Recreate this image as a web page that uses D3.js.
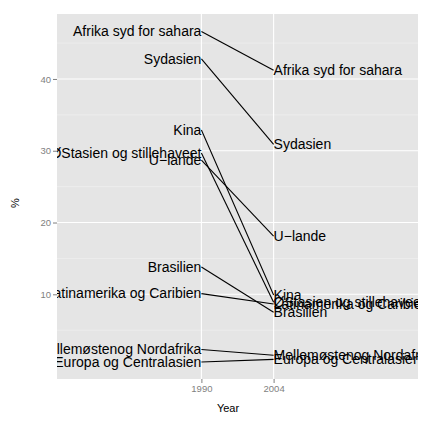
<!DOCTYPE html>
<html>
<head>
<meta charset="utf-8">
<script src="https://cdn.jsdelivr.net/npm/d3@7"></script>
<style>
  body { margin: 0; background: #fff; }
  text { font-family: "Liberation Sans", Arial, sans-serif; }
</style>
</head>
<body>
<svg id="chart"></svg>
<script>
// data
var regions = ["Afrika syd for sahara", "Sydasien", "Kina", "ØStasien og stillehaveet",
               "U−lande", "Brasilien", "Latinamerika og Caribien",
               "Mellemøstenog Nordafrika", "Europa og Centralasien"];
var v1990 = [46.6, 42.8, 32.9, 29.7, 28.7, 13.8, 10.1, 2.3, 0.57];
var v2004 = [41.2, 30.9, 9.9, 8.9, 18.1, 7.5, 8.65, 1.5, 0.94];
var years = [1990, 2004];
var yTicks = [10, 20, 30, 40];
var yMinor = [5, 15, 25, 35, 45];

var W = 432, H = 432;
var panel = {left: 57, right: 418, top: 14, bottom: 379};

var svg = d3.select("#chart").attr("width", W).attr("height", H);

var x = d3.scaleLinear().domain([1962, 2032]).range([panel.left, panel.right]);
var y = d3.scaleLinear().domain([-1.8, 49.05]).range([panel.bottom, panel.top]);

svg.append("defs").append("clipPath").attr("id", "clip")
  .append("rect")
  .attr("x", panel.left).attr("y", panel.top)
  .attr("width", panel.right - panel.left).attr("height", panel.bottom - panel.top);

// panel background
svg.append("rect")
  .attr("x", panel.left).attr("y", panel.top)
  .attr("width", panel.right - panel.left).attr("height", panel.bottom - panel.top)
  .attr("fill", "#e5e5e5");

// minor grid
svg.selectAll(".minor").data(yMinor).enter().append("line")
  .attr("x1", panel.left).attr("x2", panel.right)
  .attr("y1", function(d){ return y(d); }).attr("y2", function(d){ return y(d); })
  .attr("stroke", "#f2f2f2").attr("stroke-width", 0.6);

// major grid
svg.selectAll(".hgrid").data(yTicks).enter().append("line")
  .attr("x1", panel.left).attr("x2", panel.right)
  .attr("y1", function(d){ return y(d); }).attr("y2", function(d){ return y(d); })
  .attr("stroke", "#fff").attr("stroke-width", 1.1);
svg.selectAll(".vgrid").data(years).enter().append("line")
  .attr("y1", panel.top).attr("y2", panel.bottom)
  .attr("x1", function(d){ return x(d); }).attr("x2", function(d){ return x(d); })
  .attr("stroke", "#fff").attr("stroke-width", 1.1);

// axes
var yAxis = svg.append("g")
  .attr("transform", "translate(" + panel.left + ",0)")
  .call(d3.axisLeft(y).tickValues(yTicks).tickSize(4).tickPadding(2));
var xAxis = svg.append("g")
  .attr("transform", "translate(0," + panel.bottom + ")")
  .call(d3.axisBottom(x).tickValues(years).tickSize(4).tickPadding(2).tickFormat(d3.format("d")));
[yAxis, xAxis].forEach(function(a){
  a.select(".domain").remove();
  a.selectAll(".tick line").attr("stroke", "#7f7f7f");
  a.selectAll(".tick text").attr("fill", "#7f7f7f")
    .style("font-family", "Liberation Sans, Arial, sans-serif").style("font-size", "9.5px");
});

// slopes and labels
var rows = regions.map(function(r, i){ return {name: r, a: v1990[i], b: v2004[i]}; });
var plot = svg.append("g").attr("clip-path", "url(#clip)");

plot.selectAll(".slope").data(rows).enter().append("line")
  .attr("x1", x(years[0])).attr("x2", x(years[1]))
  .attr("y1", function(d){ return y(d.a); })
  .attr("y2", function(d){ return y(d.b); })
  .attr("stroke", "#000").attr("stroke-width", 1.1);

plot.selectAll(".lab-left").data(rows).enter().append("text")
  .attr("x", x(years[0])).attr("y", function(d){ return y(d.a); })
  .attr("dy", "0.35em").attr("text-anchor", "end")
  .style("font-size", "14px")
  .text(function(d){ return d.name; });

plot.selectAll(".lab-right").data(rows).enter().append("text")
  .attr("x", x(years[1])).attr("y", function(d){ return y(d.b); })
  .attr("dy", "0.35em").attr("text-anchor", "start")
  .style("font-size", "14px")
  .text(function(d){ return d.name; });

// axis titles
svg.append("text")
  .attr("x", 228).attr("y", 412)
  .attr("text-anchor", "middle").style("font-size", "11px")
  .text("Year");
svg.append("text")
  .attr("transform", "translate(19,203) rotate(-90)")
  .attr("text-anchor", "middle").style("font-size", "11px")
  .text("%");
</script>
</body>
</html>
